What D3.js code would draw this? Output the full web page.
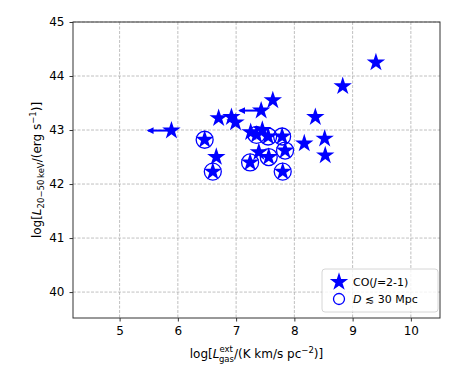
<!DOCTYPE html>
<html lang="en">
<head>
<meta charset="UTF-8">
<script src="https://d3js.org/d3.v7.min.js"></script>
<style>
  body { margin: 0; background: #fff; }
  text { font-family: "DejaVu Sans", sans-serif; }
</style>
</head>
<body>
<div id="chart"></div>
<script>
// log L_gas^ext, log L_20-50keV
var logLgas = [9.40, 8.83, 7.63, 7.43, 8.36, 6.70, 6.92, 6.99, 5.89, 7.25, 7.45, 7.35, 7.55, 7.79, 6.46, 8.17, 8.52, 7.84, 7.39, 6.66, 7.56, 8.53, 7.24, 6.60, 7.80];
var logLx   = [44.25, 43.81, 43.55, 43.36, 43.24, 43.22, 43.24, 43.14, 42.99, 42.96, 43.00, 42.91, 42.88, 42.88, 42.82, 42.75, 42.84, 42.62, 42.59, 42.50, 42.50, 42.53, 42.40, 42.23, 42.23];
// D <= 30 Mpc (circled)
var nearby  = [0, 0, 0, 0, 0, 0, 0, 0, 0, 0, 0, 1, 1, 1, 1, 0, 0, 1, 0, 0, 1, 0, 1, 1, 1];
// upper limits on L_gas: index and arrow tip
var limitIdx = [8, 3];
var limitTo  = [5.49, 7.06];

var xTicks = [5, 6, 7, 8, 9, 10];
var yTicks = [40, 41, 42, 43, 44, 45];

var points = logLgas.map(function (v, i) { return { x: v, y: logLx[i], near: nearby[i] === 1 }; });

var W = 463, H = 371;
var margin = { top: 22, right: 23, bottom: 53, left: 73 };
var width = W - margin.left - margin.right,
    height = H - margin.top - margin.bottom;

var svg = d3.select("#chart").append("svg")
    .attr("width", W).attr("height", H);
var g = svg.append("g")
    .attr("transform", "translate(" + margin.left + "," + margin.top + ")");

var x = d3.scaleLinear().domain([4.2, 10.5]).range([0, width]);
var y = d3.scaleLinear().domain([39.52, 45]).range([height, 0]);

// grid
g.append("g").selectAll("line").data(xTicks).enter().append("line")
    .attr("x1", function (d) { return x(d); }).attr("x2", function (d) { return x(d); })
    .attr("y1", 0).attr("y2", height)
    .attr("stroke", "#b0b0b0").attr("stroke-width", 0.8).attr("stroke-dasharray", "3,1.5");
g.append("g").selectAll("line").data(yTicks).enter().append("line")
    .attr("y1", function (d) { return y(d); }).attr("y2", function (d) { return y(d); })
    .attr("x1", 0).attr("x2", width)
    .attr("stroke", "#b0b0b0").attr("stroke-width", 0.8).attr("stroke-dasharray", "3,1.5");

// axes
var xAxis = g.append("g").attr("transform", "translate(0," + height + ")")
    .call(d3.axisBottom(x).tickValues(xTicks).tickSize(3.5).tickPadding(5).tickFormat(d3.format("d")));
var yAxis = g.append("g")
    .call(d3.axisLeft(y).tickValues(yTicks).tickSize(3.5).tickPadding(5).tickFormat(d3.format("d")));
[xAxis, yAxis].forEach(function (a) {
    a.select(".domain").remove();
    a.selectAll("text").attr("font-size", 12).attr("fill", "#000").attr("font-family", "DejaVu Sans");
    a.selectAll("line").attr("stroke", "#000").attr("stroke-width", 0.8);
});

// frame
g.append("rect").attr("width", width).attr("height", height)
    .attr("fill", "none").attr("stroke", "#333").attr("stroke-width", 1);

var blue = "#0000ff";

// upper limit arrows
svg.append("defs").append("marker")
    .attr("id", "head").attr("viewBox", "0 0 10 10").attr("refX", 8).attr("refY", 5)
    .attr("markerWidth", 3.4).attr("markerHeight", 3.4).attr("orient", "auto")
    .append("path").attr("d", "M0,0 L10,5 L0,10 z").attr("fill", blue);
g.append("g").selectAll("line").data(limitIdx).enter().append("line")
    .attr("x1", function (d) { return x(points[d].x); })
    .attr("y1", function (d) { return y(points[d].y); })
    .attr("x2", function (d, i) { return x(limitTo[i]); })
    .attr("y2", function (d) { return y(points[d].y); })
    .attr("stroke", blue).attr("stroke-width", 2)
    .attr("marker-end", "url(#head)");

var star = d3.symbol().type(d3.symbolStar).size(105);

// stars
g.append("g").selectAll("path").data(points).enter().append("path")
    .attr("d", star)
    .attr("transform", function (d) { return "translate(" + x(d.x) + "," + y(d.y) + ")"; })
    .attr("fill", blue);

// circles for D <= 30 Mpc
g.append("g").selectAll("circle").data(points.filter(function (d) { return d.near; })).enter().append("circle")
    .attr("cx", function (d) { return x(d.x); })
    .attr("cy", function (d) { return y(d.y); })
    .attr("r", 8.5)
    .attr("fill", "none").attr("stroke", blue).attr("stroke-width", 1.3);

// legend
var lg = svg.append("g").attr("transform", "translate(322,269)");
lg.append("rect").attr("width", 116).attr("height", 43).attr("rx", 3)
    .attr("fill", "#fff").attr("fill-opacity", 0.8).attr("stroke", "#ccc").attr("stroke-width", 0.8);
lg.append("path").attr("d", star).attr("transform", "translate(17,13)").attr("fill", blue);
lg.append("circle").attr("cx", 17).attr("cy", 30).attr("r", 5.5)
    .attr("fill", "none").attr("stroke", blue).attr("stroke-width", 1.3);
var t1 = lg.append("text").attr("x", 31).attr("y", 17).attr("font-size", 11);
t1.append("tspan").text("CO(");
t1.append("tspan").attr("font-style", "italic").text("J");
t1.append("tspan").text("=2-1)");
var t2 = lg.append("text").attr("x", 31).attr("y", 34).attr("font-size", 11);
t2.append("tspan").attr("font-style", "italic").text("D");
t2.append("tspan").text(" \u2272 30 Mpc");

// x label
var xl = svg.append("text").attr("x", margin.left + width / 2).attr("y", 358)
    .attr("text-anchor", "middle").attr("font-size", 12);
xl.append("tspan").text("log[");
xl.append("tspan").attr("font-style", "italic").text("L");
xl.append("tspan").attr("font-size", 8.5).attr("dy", -6).text("ext");
xl.append("tspan").attr("font-size", 8.5).attr("dx", -14).attr("dy", 10).text("gas");
xl.append("tspan").attr("dy", -4).text("/(K km/s pc");
xl.append("tspan").attr("font-size", 8.5).attr("dy", -5).text("\u22122");
xl.append("tspan").attr("dy", 5).text(")]");

// y label
var yl = svg.append("text").attr("transform", "translate(41," + (margin.top + height / 2) + ") rotate(-90)")
    .attr("text-anchor", "middle").attr("font-size", 12);
yl.append("tspan").text("log[");
yl.append("tspan").attr("font-style", "italic").text("L");
yl.append("tspan").attr("font-size", 8.5).attr("dy", 3).text("20\u221250\u2009keV");
yl.append("tspan").attr("dy", -3).text("/(erg s");
yl.append("tspan").attr("font-size", 8.5).attr("dy", -5).text("\u22121");
yl.append("tspan").attr("dy", 5).text(")]");
</script>
</body>
</html>
